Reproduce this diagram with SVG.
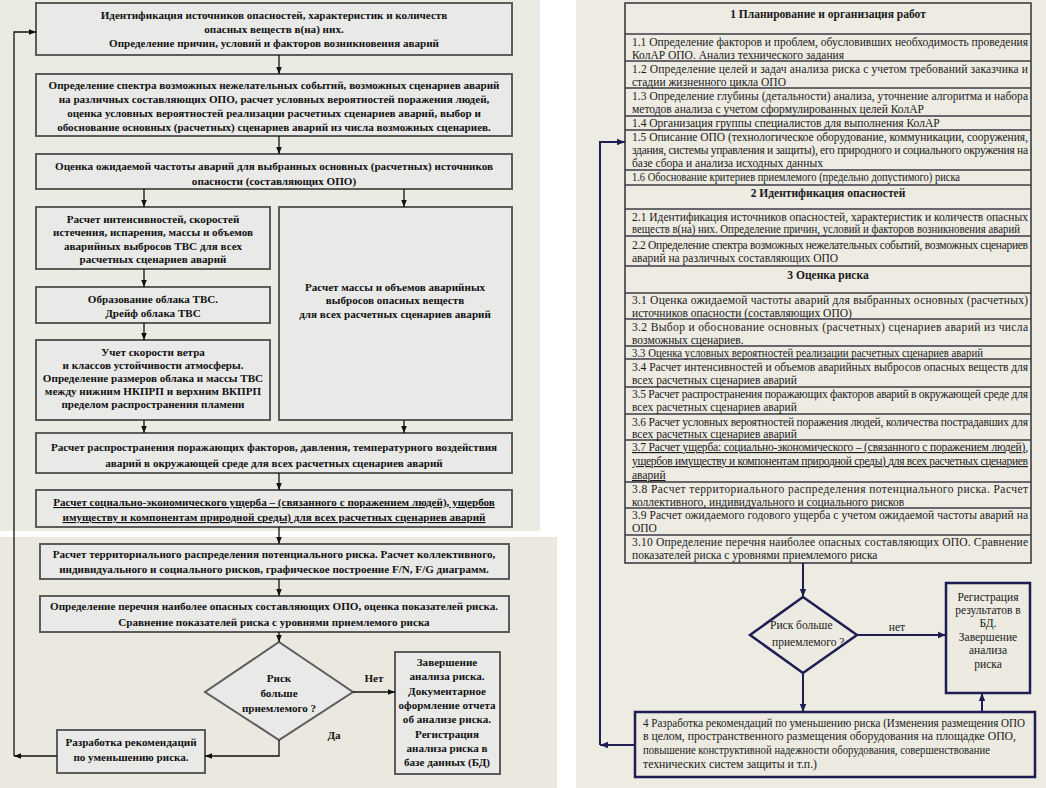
<svg xmlns="http://www.w3.org/2000/svg" width="1046" height="788" viewBox="0 0 1046 788">
<style>
text{font-family:'Liberation Serif','DejaVu Serif','Times New Roman',serif}
.lb{fill:#e9e9e8;stroke:#5c5c5c;stroke-width:2}
.lt{font-weight:bold;font-size:11.1px;fill:#111;text-anchor:middle}
.rt{font-size:11.5px;fill:#1a1a1a}
.rth{font-weight:bold;font-size:11.5px;fill:#1a1a1a;text-anchor:middle}
.row{fill:none;stroke:#3c3c44;stroke-width:1.6}
.rb{fill:#eceae1;stroke:#1e1e55;stroke-width:2.5}
.rf{font-size:11.5px;fill:#1a1a1a}
.lc{fill:none;stroke:#111;stroke-width:1.3}
.rc{fill:none;stroke:#1e1e55;stroke-width:2}
.u{text-decoration:underline}
</style>
<defs>
<marker id="ah" viewBox="0 0 10 10" refX="10" refY="5" markerWidth="7" markerHeight="7" markerUnits="userSpaceOnUse" orient="auto"><path d="M0,1 L10,5 L0,9 z" fill="#111"/></marker>
<marker id="ahn" viewBox="0 0 10 10" refX="10" refY="5" markerWidth="8" markerHeight="8" markerUnits="userSpaceOnUse" orient="auto"><path d="M0,1 L10,5 L0,9 z" fill="#1e1e55"/></marker>
</defs>
<rect x="0" y="0" width="1046" height="788" fill="#ffffff"/>
<rect x="0" y="0" width="540" height="531" fill="#ecebe3"/>
<rect x="0" y="537" width="557" height="251" fill="#ebe9df"/>
<rect x="576" y="0" width="470" height="788" fill="#edebe2"/>

<g id="l-box1"><rect class="lb" x="36" y="3" width="476" height="52"/>
<text class="lt" x="274" y="19">Идентификация источников опасностей, характеристик и количеств</text>
<text class="lt" x="274" y="33">опасных веществ в(на) них.</text>
<text class="lt" x="274" y="47">Определение причин, условий и факторов возникновения аварий</text></g>

<g id="l-box2"><rect class="lb" x="36" y="74" width="476" height="62"/>
<text class="lt" x="274" y="89">Определение спектра возможных нежелательных событий, возможных сценариев аварий</text>
<text class="lt" x="274" y="103">на различных составляющих ОПО, расчет условных вероятностей поражения людей,</text>
<text class="lt" x="274" y="117">оценка условных вероятностей реализации расчетных сценариев аварий, выбор и</text>
<text class="lt" x="274" y="131">обоснование основных (расчетных) сценариев аварий из числа возможных сценариев.</text></g>

<g id="l-box3"><rect class="lb" x="36" y="154" width="476" height="35"/>
<text class="lt" x="274" y="170">Оценка ожидаемой частоты аварий для выбранных основных (расчетных) источников</text>
<text class="lt" x="274" y="185">опасности (составляющих ОПО)</text></g>

<g id="l-box4"><rect class="lb" x="36" y="207" width="234" height="62"/>
<text class="lt" x="153" y="223">Расчет интенсивностей, скоростей</text>
<text class="lt" x="153" y="236">истечения, испарения, массы и объемов</text>
<text class="lt" x="153" y="250">аварийных выбросов ТВС для всех</text>
<text class="lt" x="153" y="263">расчетных сценариев  аварий</text></g>

<g id="l-big"><rect class="lb" x="279" y="207" width="233" height="213"/>
<text class="lt" x="395" y="291">Расчет массы и объемов аварийных</text>
<text class="lt" x="395" y="304">выбросов опасных веществ</text>
<text class="lt" x="395" y="318">для всех расчетных сценариев  аварий</text></g>

<g id="l-box5"><rect class="lb" x="36" y="287" width="234" height="36"/>
<text class="lt" x="153" y="303">Образование облака ТВС.</text>
<text class="lt" x="153" y="317">Дрейф облака ТВС</text></g>

<g id="l-box6"><rect class="lb" x="36" y="340" width="234" height="80"/>
<text class="lt" x="153" y="356">Учет скорости ветра</text>
<text class="lt" x="153" y="369">и классов устойчивости атмосферы.</text>
<text class="lt" x="153" y="382">Определение размеров облака и массы ТВС</text>
<text class="lt" x="153" y="395">между нижним НКПРП и верхним  ВКПРП</text>
<text class="lt" x="153" y="408">пределом распространения  пламени</text></g>

<g id="l-box7"><rect class="lb" x="36" y="433" width="476" height="40"/>
<text class="lt" x="274" y="451">Расчет распространения поражающих факторов, давления, температурного воздействия</text>
<text class="lt" x="274" y="467">аварий в окружающей среде для всех расчетных сценариев аварий</text></g>

<g id="l-box8"><rect class="lb" x="36" y="490" width="476" height="37"/>
<text class="lt u" x="274" y="506">Расчет социально-экономического ущерба – (связанного с поражением людей), ущербов</text>
<text class="lt u" x="274" y="521">имуществу и компонентам природной среды) для всех расчетных сценариев аварий</text></g>

<g id="l-box9"><rect class="lb" x="40" y="544" width="469" height="35"/>
<text class="lt" x="274" y="558">Расчет территориального распределения потенциального риска.  Расчет коллективного,</text>
<text class="lt" x="274" y="573">индивидуального и социального рисков, графическое построение F/N, F/G диаграмм.</text></g>

<g id="l-box10"><rect class="lb" x="40" y="596" width="469" height="36"/>
<text class="lt" x="274" y="610">Определение перечня наиболее опасных составляющих ОПО, оценка показателей риска.</text>
<text class="lt" x="274" y="626">Сравнение показателей риска с уровнями приемлемого риска</text></g>

<g id="l-diamond"><polygon class="lb" points="279,642 353,692 279,740 205,692"/>
<text class="lt" x="279" y="682">Риск</text>
<text class="lt" x="279" y="697">больше</text>
<text class="lt" x="279" y="712">приемлемого ?</text></g>

<g id="l-box11"><rect class="lb" x="395" y="652" width="105" height="122"/>
<text class="lt" x="447" y="666">Завершение</text>
<text class="lt" x="447" y="680">анализа риска.</text>
<text class="lt" x="447" y="695">Документарное</text>
<text class="lt" x="447" y="709">оформление отчета</text>
<text class="lt" x="447" y="723">об анализе риска.</text>
<text class="lt" x="447" y="738">Регистрация</text>
<text class="lt" x="447" y="752">анализа риска в</text>
<text class="lt" x="447" y="766">базе данных (БД)</text></g>

<g id="l-box12"><rect class="lb" x="57" y="730" width="148" height="43"/>
<text class="lt" x="131" y="746">Разработка рекомендаций</text>
<text class="lt" x="131" y="761">по уменьшению риска.</text></g>

<g id="l-labels">
<text class="lt" x="374" y="682">Нет</text>
<text class="lt" x="334" y="739">Да</text>
</g>

<g id="l-connectors">
<path class="lc" d="M279,55 V74" marker-end="url(#ah)"/>
<path class="lc" d="M279,136 V154" marker-end="url(#ah)"/>
<path class="lc" d="M144,189 V207" marker-end="url(#ah)"/>
<path class="lc" d="M404,189 V207" marker-end="url(#ah)"/>
<path class="lc" d="M144,269 V287" marker-end="url(#ah)"/>
<path class="lc" d="M144,323 V340" marker-end="url(#ah)"/>
<path class="lc" d="M144,420 V433" marker-end="url(#ah)"/>
<path class="lc" d="M404,420 V433" marker-end="url(#ah)"/>
<path class="lc" d="M279,473 V490" marker-end="url(#ah)"/>
<path class="lc" d="M279,527 V544" marker-end="url(#ah)"/>
<path class="lc" d="M279,579 V596" marker-end="url(#ah)"/>
<path class="lc" d="M279,632 V642" marker-end="url(#ah)"/>
<path class="lc" d="M353,692 H395" marker-end="url(#ah)"/>
<path class="lc" d="M279,740 V756 H205" marker-end="url(#ah)"/>
<path class="lc" d="M57,756 H14" marker-end="url(#ah)"/>
<path class="lc" d="M14,756 V32 H36" marker-end="url(#ah)"/>
</g>

<g id="r-table">
<rect class="row" x="625" y="3" width="406" height="560"/>
<path class="row" d="M625,34 H1031 M625,61 H1031 M625,88 H1031 M625,116 H1031 M625,130 H1031 M625,170 H1031 M625,185 H1031 M625,209 H1031 M625,236 H1031 M625,266 H1031 M625,293 H1031 M625,319 H1031 M625,346 H1031 M625,359 H1031 M625,387 H1031 M625,414 H1031 M625,440 H1031 M625,482 H1031 M625,508 H1031 M625,535 H1031"/>
<text class="rth" x="828" y="18">1 Планирование и организация работ</text>
<text class="rt" x="632" y="46" textLength="396" lengthAdjust="spacing">1.1 Определение факторов и проблем, обусловивших необходимость проведения</text>
<text class="rt" x="632" y="59">КолАР ОПО. Анализ технического задания</text>
<text class="rt" x="632" y="73" textLength="396" lengthAdjust="spacing">1.2 Определение целей и задач анализа риска с учетом требований заказчика и</text>
<text class="rt" x="632" y="86">стадии жизненного цикла ОПО</text>
<text class="rt" x="632" y="100" textLength="396" lengthAdjust="spacing">1.3 Определение глубины (детальности) анализа, уточнение алгоритма и набора</text>
<text class="rt" x="632" y="113">методов анализа с учетом сформулированных целей КолАР</text>
<text class="rt" x="632" y="127">1.4 Организация группы специалистов для выполнения КолАР</text>
<text class="rt" x="632" y="141" textLength="396" lengthAdjust="spacing">1.5 Описание ОПО (технологическое оборудование, коммуникации, сооружения,</text>
<text class="rt" x="632" y="154" textLength="396" lengthAdjust="spacing">здания, системы управления и защиты), его природного и социального окружения на</text>
<text class="rt" x="632" y="167">базе сбора и анализа исходных данных</text>
<text class="rt" x="632" y="181" textLength="328" lengthAdjust="spacingAndGlyphs">1.6 Обоснование критериев приемлемого (предельно допустимого) риска</text>
<text class="rth" x="828" y="197">2 Идентификация опасностей</text>
<text class="rt" x="632" y="221" textLength="396" lengthAdjust="spacing">2.1 Идентификация источников опасностей, характеристик и количеств опасных</text>
<text class="rt" x="632" y="233" textLength="388" lengthAdjust="spacingAndGlyphs">веществ в(на) них. Определение причин, условий и факторов возникновения аварий</text>
<text class="rt" x="632" y="249" textLength="396" lengthAdjust="spacing">2.2 Определение спектра возможных нежелательных событий, возможных сценариев</text>
<text class="rt" x="632" y="262">аварий на различных составляющих ОПО</text>
<text class="rth" x="828" y="279">3 Оценка риска</text>
<text class="rt" x="632" y="304" textLength="396" lengthAdjust="spacing">3.1 Оценка ожидаемой частоты аварий для выбранных основных (расчетных)</text>
<text class="rt" x="632" y="317">источников опасности (составляющих ОПО)</text>
<text class="rt" x="632" y="331" textLength="396" lengthAdjust="spacing">3.2 Выбор и обоснование основных (расчетных) сценариев аварий из числа</text>
<text class="rt" x="632" y="344">возможных сценариев.</text>
<text class="rt" x="632" y="357" textLength="351" lengthAdjust="spacingAndGlyphs">3.3 Оценка условных вероятностей реализации расчетных сценариев аварий</text>
<text class="rt" x="632" y="371" textLength="396" lengthAdjust="spacing">3.4  Расчет интенсивностей и объемов аварийных выбросов опасных веществ для</text>
<text class="rt" x="632" y="384">всех расчетных сценариев аварий</text>
<text class="rt" x="632" y="398" textLength="396" lengthAdjust="spacing">3.5 Расчет распространения поражающих факторов аварий в окружающей среде для</text>
<text class="rt" x="632" y="411">всех расчетных сценариев аварий</text>
<text class="rt" x="632" y="426" textLength="396" lengthAdjust="spacing">3.6 Расчет условных вероятностей поражения людей, количества пострадавших для</text>
<text class="rt" x="632" y="438">всех расчетных сценариев аварий</text>
<text class="rt u" x="632" y="451" textLength="396" lengthAdjust="spacing">3.7 Расчет ущерба: социально-экономического – (связанного с поражением людей),</text>
<text class="rt u" x="632" y="465" textLength="396" lengthAdjust="spacing">ущербов имуществу и компонентам природной среды) для всех расчетных сценариев</text>
<text class="rt u" x="632" y="479">аварий</text>
<text class="rt" x="632" y="493" textLength="396" lengthAdjust="spacing">3.8 Расчет территориального распределения потенциального риска. Расчет</text>
<text class="rt" x="632" y="506">коллективного, индивидуального и социального рисков</text>
<text class="rt" x="632" y="519" textLength="396" lengthAdjust="spacing">3.9 Расчет ожидаемого годового ущерба с учетом ожидаемой частоты аварий на</text>
<text class="rt" x="632" y="532">ОПО</text>
<text class="rt" x="632" y="546" textLength="396" lengthAdjust="spacing">3.10 Определение перечня наиболее опасных составляющих ОПО. Сравнение</text>
<text class="rt" x="632" y="559">показателей риска с уровнями приемлемого риска</text>
</g>

<g id="r-diamond"><polygon class="rb" points="803,597 857,635 803,673 750,635"/>
<text class="rf" x="770" y="629">Риск больше</text>
<text class="rf" x="772" y="646">приемлемого ?</text></g>

<g id="r-register"><rect class="rb" x="946" y="583" width="84" height="110"/>
<text class="rf" x="988" y="601" text-anchor="middle">Регистрация</text>
<text class="rf" x="988" y="614" text-anchor="middle">результатов в</text>
<text class="rf" x="988" y="627" text-anchor="middle">БД.</text>
<text class="rf" x="988" y="641" text-anchor="middle">Завершение</text>
<text class="rf" x="988" y="654" text-anchor="middle">анализа</text>
<text class="rf" x="988" y="668" text-anchor="middle">риска</text></g>

<g id="r-box4"><rect class="rb" x="635" y="712" width="400" height="65"/>
<text class="rf" x="643" y="727" textLength="382" lengthAdjust="spacingAndGlyphs">4 Разработка рекомендаций по уменьшению риска (Изменения размещения ОПО</text>
<text class="rf" x="643" y="740" textLength="373" lengthAdjust="spacingAndGlyphs">в целом, пространственного размещения оборудования на площадке ОПО,</text>
<text class="rf" x="643" y="754" textLength="347" lengthAdjust="spacingAndGlyphs">повышение конструктивной надежности оборудования, совершенствование</text>
<text class="rf" x="643" y="768" textLength="174" lengthAdjust="spacingAndGlyphs">технических систем защиты и т.п.)</text></g>

<g id="r-labels"><text class="rf" x="897" y="631" text-anchor="middle">нет</text></g>

<g id="r-connectors">
<path class="rc" d="M803,563 V597" marker-end="url(#ahn)"/>
<path class="rc" d="M857,635 H946" marker-end="url(#ahn)"/>
<path class="rc" d="M803,673 V712" marker-end="url(#ahn)"/>
<path class="rc" d="M982,712 V693" marker-end="url(#ahn)"/>
<path class="rc" d="M635,745 H600" marker-end="url(#ahn)"/>
<path class="rc" d="M600,745 V142 H625" marker-end="url(#ahn)"/>
</g>
</svg>
